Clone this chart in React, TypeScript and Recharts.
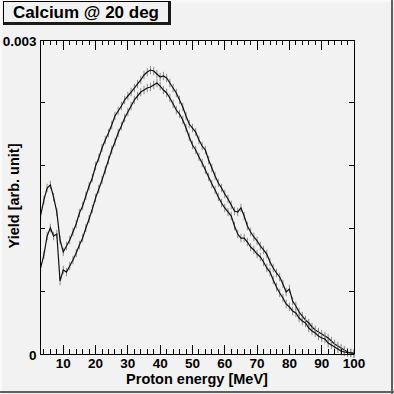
import React from 'react';
import { LineChart, Line, XAxis, YAxis, ErrorBar, Label, ReferenceArea } from 'recharts';

const energies = [
  3, 4, 5, 6, 7, 8, 9, 10, 11, 12, 13, 14, 15, 16, 17, 18, 19, 20, 21, 22,
  23, 24, 25, 26, 27, 28, 29, 30, 31, 32, 33, 34, 35, 36, 37, 38, 39, 40, 41, 42,
  43, 44, 45, 46, 47, 48, 49, 50, 51, 52, 53, 54, 55, 56, 57, 58, 59, 60, 61, 62,
  63, 64, 65, 66, 67, 68, 69, 70, 71, 72, 73, 74, 75, 76, 77, 78, 79, 80, 81, 82,
  83, 84, 85, 86, 87, 88, 89, 90, 91, 92, 93, 94, 95, 96, 97, 98, 99, 100,
];

const yieldA = [
  0.001328, 0.001471, 0.001586, 0.001615, 0.0015, 0.001357, 0.001089, 0.000975, 0.001032, 0.001089,
  0.001166, 0.001242, 0.001347, 0.001414, 0.00151, 0.001605, 0.001682, 0.001796, 0.001873, 0.001968,
  0.002045, 0.002111, 0.002188, 0.002274, 0.002322, 0.002369, 0.002427, 0.002465, 0.002503, 0.002541,
  0.00258, 0.002618, 0.002666, 0.002694, 0.002713, 0.002704, 0.002675, 0.002646, 0.002656, 0.002637,
  0.002589, 0.002541, 0.002494, 0.002427, 0.00236, 0.002274, 0.002197, 0.002159, 0.002121, 0.002045,
  0.001987, 0.001949, 0.001853, 0.001777, 0.001701, 0.001634, 0.001586, 0.001529, 0.001481, 0.001424,
  0.001366, 0.001357, 0.001395, 0.001318, 0.001223, 0.001166, 0.001118, 0.00108, 0.001032, 0.000994,
  0.000955, 0.000879, 0.000822, 0.000774, 0.000736, 0.000669, 0.000592, 0.000621, 0.000506, 0.000459,
  0.000401, 0.000363, 0.000325, 0.000296, 0.000258, 0.000229, 0.00021, 0.000191, 0.000172, 0.000153,
  0.000124, 0.000096, 0.000076, 0.000057, 0.000038, 0.000019, 0.00001, 0.000005,
];

const yieldB = [
  0.000822, 0.000946, 0.001127, 0.001204, 0.001127, 0.001146, 0.000697, 0.000803, 0.000783, 0.000841,
  0.000898, 0.000965, 0.001041, 0.001108, 0.001204, 0.00129, 0.001385, 0.00149, 0.001576, 0.001662,
  0.001758, 0.001853, 0.001949, 0.002025, 0.002111, 0.002178, 0.002255, 0.002312, 0.002369, 0.002427,
  0.002465, 0.002503, 0.002522, 0.002541, 0.002551, 0.00257, 0.002589, 0.00256, 0.002522, 0.002494,
  0.002446, 0.002389, 0.002331, 0.002293, 0.002236, 0.002159, 0.002073, 0.001997, 0.001949, 0.001882,
  0.001825, 0.001758, 0.001691, 0.001624, 0.001567, 0.0015, 0.001443, 0.001395, 0.001357, 0.001318,
  0.001223, 0.001146, 0.001108, 0.001108, 0.00107, 0.001022, 0.000994, 0.000955, 0.000927, 0.000879,
  0.000822, 0.000783, 0.000707, 0.00064, 0.000583, 0.000535, 0.000478, 0.000449, 0.000411, 0.000392,
  0.000344, 0.000315, 0.000296, 0.000248, 0.00022, 0.000201, 0.000172, 0.000153, 0.000143, 0.000105,
  0.000086, 0.000067, 0.000048, 0.000029, 0.000019, 0.000014, 0.00001, 0.000005,
];

const yieldError = 0.00004;

const xTicks = [
  4, 6, 8, 10, 12, 14, 16, 18, 20, 22, 24, 26, 28, 30, 32, 34, 36, 38, 40, 42, 44, 46, 48, 50,
  52, 54, 56, 58, 60, 62, 64, 66, 68, 70, 72, 74, 76, 78, 80, 82, 84, 86, 88, 90, 92, 94, 96, 98, 100,
];
const xLabelTicks = [10, 20, 30, 40, 50, 60, 70, 80, 90, 100];
const yTicks = [0, 0.0006, 0.0012, 0.0018, 0.0024, 0.003];
const yLabelTicks = [0, 0.003];
const xDomain = [2.8, 100];
const yDomain = [0, 0.003];

const chartTitle = 'Calcium @ 20 deg';
const xTitle = 'Proton energy [MeV]';
const yTitle = 'Yield [arb. unit]';

const data = energies.map((e, i) => ({
  e,
  a: yieldA[i],
  b: yieldB[i],
  errA: yieldError,
  errB: yieldError,
}));

const FONT = '"Liberation Sans", Arial, Helvetica, sans-serif';
const BG = '#f2f2f2';
const PLOT = 314;

const BottomTick = (props: any) => {
  const { x, y, payload } = props;
  const v = payload.value;
  const major = xLabelTicks.includes(v);
  const len = major ? 9.5 : 5;
  const top = y - PLOT;
  return (
    <g shapeRendering="crispEdges">
      <line x1={x} x2={x} y1={y} y2={y - len} stroke="#000" strokeWidth={1} />
      <line x1={x} x2={x} y1={top} y2={top + len} stroke="#000" strokeWidth={1} />
      {major && (
        <text x={x} y={y + 14} textAnchor="middle" fontFamily={FONT} fontWeight="bold" fontSize={13.5} fill="#000">
          {v}
        </text>
      )}
    </g>
  );
};

const LeftTick = (props: any) => {
  const { x, y, payload } = props;
  const v = payload.value;
  const labelled = yLabelTicks.includes(v);
  const right = x + PLOT;
  return (
    <g shapeRendering="crispEdges">
      <line x1={x} x2={x + 5} y1={y} y2={y} stroke="#000" strokeWidth={1} />
      <line x1={right} x2={right - 5} y1={y} y2={y} stroke="#000" strokeWidth={1} />
      {labelled && (
        <text x={x - 3.5} y={y + 5.5} textAnchor="end" fontFamily={FONT} fontWeight="bold" fontSize={13.5} fill="#000">
          {v === 0 ? '0' : String(v)}
        </text>
      )}
    </g>
  );
};

const XTitle = (props: any) => {
  const vb = props.viewBox || { x: 40, y: 354, width: 314, height: 40 };
  const cx = vb.x + vb.width / 2;
  return (
    <text x={cx} y={vb.y + 29.5} textAnchor="middle" fontFamily={FONT} fontWeight="bold" fontSize={14.5} fill="#000">
      {xTitle}
    </text>
  );
};

const YTitle = (props: any) => {
  const vb = props.viewBox || { x: 0, y: 40, width: 40, height: 314 };
  const cx = vb.x + 18.7;
  const cy = vb.y + vb.height / 2 - 1;
  return (
    <text
      x={cx}
      y={cy}
      transform={`rotate(-90, ${cx}, ${cy})`}
      textAnchor="middle"
      fontFamily={FONT}
      fontWeight="bold"
      fontSize={14.5}
      fill="#000"
    >
      {yTitle}
    </text>
  );
};

export default function App() {
  return (
    <div style={{ position: 'absolute', left: 0, top: 0, width: 394, height: 394, background: BG, overflow: 'hidden' }}>
      <LineChart width={394} height={394} data={data} margin={{ top: 40, right: 40, bottom: 0, left: 0 }}>
        <XAxis
          dataKey="e"
          type="number"
          domain={xDomain}
          allowDataOverflow
          ticks={xTicks}
          interval={0}
          height={40}
          tickSize={0}
          tickMargin={0}
          tickLine={false}
          axisLine={{ stroke: '#000', strokeWidth: 1, shapeRendering: 'crispEdges' }}
          tick={<BottomTick />}
        >
          <Label content={<XTitle />} />
        </XAxis>
        <YAxis
          type="number"
          domain={yDomain}
          allowDataOverflow
          ticks={yTicks}
          interval={0}
          width={40}
          tickSize={0}
          tickMargin={0}
          tickLine={false}
          axisLine={{ stroke: '#000', strokeWidth: 1, shapeRendering: 'crispEdges' }}
          tick={<LeftTick />}
        >
          <Label content={<YTitle />} />
        </YAxis>
        <ReferenceArea
          x1={xDomain[0]}
          x2={xDomain[1]}
          y1={yDomain[0]}
          y2={yDomain[1]}
          fill="none"
          fillOpacity={0}
          stroke="#000"
          strokeWidth={1}
          shapeRendering="crispEdges"
          ifOverflow="visible"
        />
        <Line dataKey="a" type="linear" stroke="#111" strokeWidth={1.2} dot={false} isAnimationActive={false}>
          <ErrorBar dataKey="errA" direction="y" width={0} stroke="#8c8c8c" strokeWidth={1} isAnimationActive={false} />
        </Line>
        <Line dataKey="b" type="linear" stroke="#111" strokeWidth={1.2} dot={false} isAnimationActive={false}>
          <ErrorBar dataKey="errB" direction="y" width={0} stroke="#8c8c8c" strokeWidth={1} isAnimationActive={false} />
        </Line>
      </LineChart>
      <div style={{ position: 'absolute', left: 0, top: 0, width: 394, height: 2, background: '#fafafa' }} />
      <div style={{ position: 'absolute', left: 0, top: 0, width: 2, height: 394, background: '#fafafa' }} />
      <div style={{ position: 'absolute', left: 391, top: 0, width: 2, height: 394, background: '#606060' }} />
      <div style={{ position: 'absolute', left: 0, top: 391, width: 394, height: 2, background: '#606060' }} />
      <div
        style={{
          position: 'absolute',
          left: 3,
          top: 1,
          width: 164,
          height: 19,
          background: BG,
          borderTop: '1px solid #000',
          borderLeft: '1px solid #000',
          borderRight: '3px solid #1a1a1a',
          borderBottom: '3px solid #1a1a1a',
          fontFamily: FONT,
          fontWeight: 'bold',
          fontSize: 17,
          lineHeight: '19px',
          textAlign: 'center',
          color: '#000',
          paddingTop: 1,
          boxSizing: 'content-box',
        }}
      >
        {chartTitle}
      </div>
    </div>
  );
}
